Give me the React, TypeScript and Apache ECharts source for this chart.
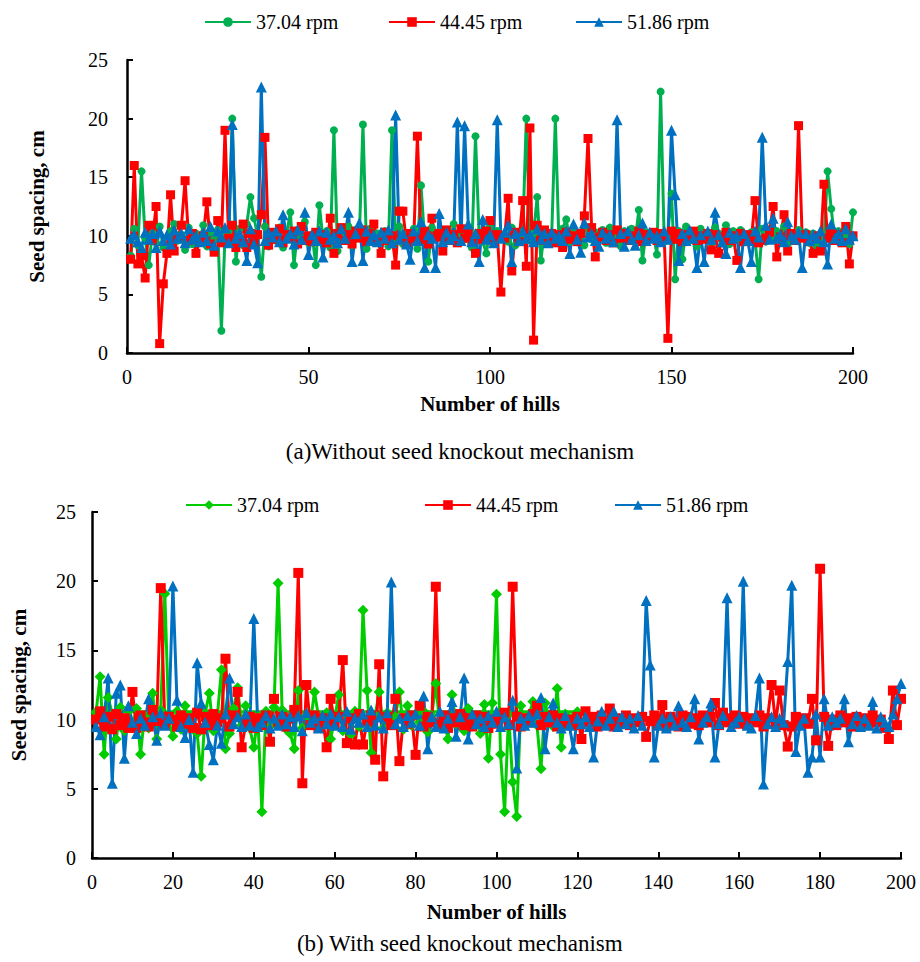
import React, { useEffect, useRef } from 'react';
import * as echarts from 'echarts';

// Hill numbers are 1..N (index + 1)
const seriesNames = ['37.04 rpm', '44.45 rpm', '51.86 rpm'];
const captionA = '(a)Without seed knockout mechanism';
const captionB = '(b) With seed knockout mechanism';
const xTicksTop = { min: 0, max: 200, interval: 50 };
const xTicksBottom = { min: 0, max: 200, interval: 20 };
const yTicks = { min: 0, max: 25, interval: 5 };

// (a) Without seed knockout mechanism
const topGreen = [
  8.3, 10.6, 9.2, 15.5, 9.8, 7.5, 10.2, 9.4, 10.8, 9.0,
  8.5, 10.4, 11.0, 9.6, 10.1, 8.8, 10.7, 9.3, 10.2, 9.5,
  10.9, 9.1, 10.3, 9.7, 10.5, 1.9, 9.9, 10.4, 20.0, 7.8,
  10.6, 9.2, 11.0, 13.3, 11.5, 10.0, 6.5, 10.8, 9.1, 10.3,
  9.6, 10.7, 9.0, 10.2, 12.0, 7.5, 10.5, 9.8, 11.2, 9.4,
  10.1, 7.5, 12.6, 9.7, 10.4, 9.0, 19.0, 8.7, 10.3, 9.6,
  10.8, 9.2, 10.5, 9.9, 19.5, 8.9, 10.6, 9.4, 10.2, 9.7,
  10.4, 9.1, 19.0, 9.5, 10.8, 9.3, 10.1, 9.8, 10.6, 8.9,
  14.3, 9.6, 7.8, 10.7, 9.9, 10.3, 9.2, 10.5, 9.6, 11.0,
  9.4, 10.2, 9.7, 10.6, 9.0, 18.5, 10.1, 9.5, 8.5, 10.8,
  9.3, 10.4, 9.8, 10.1, 9.5, 10.7, 9.2, 10.3, 9.9, 20.0,
  9.6, 10.2, 13.3, 7.9, 10.4, 9.7, 10.1, 20.0, 9.4, 10.6,
  11.4, 9.5, 10.3, 9.8, 10.0, 9.2, 10.6, 9.7, 10.3, 9.9,
  10.5, 9.4, 10.7, 9.6, 10.2, 9.1, 10.4, 9.8, 10.6, 9.5,
  12.2, 7.9, 10.3, 9.7, 10.1, 8.4, 22.3, 9.5, 10.2, 13.6,
  6.3, 10.4, 8.0, 10.8, 9.6, 10.3, 9.1, 10.6, 9.8, 10.1,
  9.4, 10.7, 10.2, 9.5, 10.9, 9.3, 10.4, 9.7, 10.5, 10.1,
  9.6, 10.3, 9.8, 6.3, 10.6, 9.5, 10.2, 9.9, 10.4, 9.7,
  10.8, 9.3, 10.1, 9.6, 10.5, 9.8, 10.3, 9.4, 10.2, 9.1,
  10.0, 9.6, 15.5, 12.3, 9.7, 10.4, 9.5, 10.1, 9.3, 12.0,
];
const topRed = [
  8.0, 16.0, 7.6, 8.3, 6.4, 10.9, 9.6, 12.5, 0.8, 5.9,
  8.5, 13.5, 8.7, 9.8, 10.9, 14.7, 9.6, 10.2, 8.5, 9.5,
  10.0, 12.9, 9.3, 8.6, 11.3, 9.4, 19.0, 9.8, 10.9, 9.0,
  9.6, 11.0, 9.0, 10.2, 9.4, 10.1, 11.8, 18.4, 9.2, 10.3,
  9.7, 10.6, 9.4, 10.1, 9.8, 10.4, 9.3, 10.8, 9.6, 10.0,
  9.5, 10.3, 9.7, 10.1, 9.4, 11.5, 8.5, 10.2, 10.7, 9.6,
  10.1, 9.3, 10.4, 9.8, 10.5, 9.5, 10.2, 11.0, 9.7, 8.5,
  10.3, 9.6, 10.0, 7.5, 12.1, 12.1, 9.4, 10.2, 9.8, 18.5,
  9.7, 10.4, 9.3, 11.5, 9.9, 10.2, 8.7, 10.5, 9.6, 10.1,
  9.4, 10.6, 9.8, 10.3, 9.5, 8.5, 10.2, 9.7, 10.4, 11.3,
  9.6, 10.1, 5.2, 9.8, 13.2, 7.0, 10.3, 9.5, 13.0, 7.4,
  19.2, 1.1, 10.9, 9.6, 10.5, 9.8, 10.2, 9.4, 10.1, 9.0,
  10.3, 9.7, 10.0, 9.5, 10.2, 11.7, 18.3, 10.7, 8.2, 9.9,
  10.3, 9.6, 10.1, 9.4, 10.5, 9.8, 10.2, 9.6, 10.0, 9.7,
  10.4, 9.5, 10.1, 9.8, 10.3, 9.6, 10.2, 9.8, 1.25, 10.4,
  9.7, 10.2, 9.5, 10.1, 9.8, 10.4, 9.6, 10.0, 9.7, 10.2,
  8.8, 10.1, 8.5, 9.9, 10.3, 9.6, 10.0, 7.9, 10.2, 9.5,
  10.1, 9.7, 13.0, 9.4, 9.6, 9.8, 10.3, 12.5, 8.2, 9.9,
  11.8, 8.7, 10.2, 9.6, 19.4, 9.8, 10.1, 9.5, 8.5, 10.0,
  8.7, 14.4, 9.8, 10.2, 9.6, 10.1, 9.4, 10.8, 7.6, 10.0,
];
const topBlue = [
  9.8, 10.1, 9.5, 9.0, 10.3, 9.7, 10.2, 9.0, 10.4, 9.6,
  10.1, 9.3, 10.5, 9.8, 10.2, 9.4, 10.6, 9.7, 10.0, 9.5,
  10.3, 9.6, 10.8, 9.2, 10.4, 9.9, 10.7, 9.4, 19.5, 9.8,
  10.2, 9.5, 7.9, 10.6, 9.3, 7.7, 22.7, 9.6, 10.3, 9.9,
  10.4, 9.5, 11.8, 9.8, 10.2, 9.3, 10.5, 9.7, 12.0, 8.4,
  10.1, 9.6, 10.4, 8.2, 10.3, 9.7, 10.0, 9.4, 10.6, 9.8,
  12.0, 7.8, 10.2, 11.1, 7.9, 10.4, 9.6, 10.1, 9.5, 10.3,
  9.8, 10.5, 9.4, 20.3, 9.7, 10.2, 9.3, 8.0, 10.4, 9.6,
  11.2, 7.3, 10.1, 9.8, 7.3, 11.9, 9.5, 10.3, 9.7, 10.0,
  19.7, 9.6, 19.4, 11.0, 9.5, 10.2, 7.8, 11.4, 9.7, 10.1,
  9.4, 19.9, 9.8, 10.3, 10.9, 7.8, 10.2, 9.6, 10.4, 9.8,
  10.1, 9.5, 10.6, 9.7, 10.2, 9.4, 10.3, 9.8, 10.0, 9.6,
  10.4, 8.5, 11.0, 9.7, 8.6, 11.1, 9.9, 10.2, 9.6, 9.1,
  10.3, 9.8, 10.1, 9.5, 19.9, 10.2, 9.1, 10.4, 9.7, 9.2,
  10.1, 11.1, 9.6, 10.3, 9.8, 10.0, 9.5, 10.4, 9.7, 19.0,
  13.5, 7.9, 10.2, 9.6, 10.5, 9.8, 7.3, 10.1, 7.8, 10.4,
  9.7, 12.0, 10.1, 9.5, 8.5, 10.3, 9.8, 10.0, 7.3, 10.2,
  9.6, 7.8, 10.4, 9.9, 18.4, 10.9, 9.7, 11.5, 9.8, 10.1,
  9.5, 11.2, 10.0, 9.7, 10.3, 7.3, 10.2, 9.6, 10.1, 9.8,
  10.4, 9.5, 7.6, 11.0, 9.8, 10.2, 9.6, 10.6, 9.7, 10.0,
];

// (b) With seed knockout mechanism
const bottomGreen = [
  10.5, 13.1, 7.5, 11.6, 10.4, 8.6, 10.9, 9.2, 10.6, 9.5,
  10.8, 7.5, 10.3, 9.4, 11.9, 8.6, 10.7, 19.1, 9.9, 8.8,
  10.6, 9.3, 11.0, 9.7, 10.4, 9.0, 5.9, 10.5, 11.9, 9.2,
  10.3, 13.6, 7.9, 9.0, 10.8, 12.3, 9.6, 11.0, 9.4, 8.0,
  10.2, 3.35, 10.6, 9.5, 10.9, 19.85, 10.7, 9.3, 9.0, 7.9,
  12.1, 9.4, 10.3, 9.8, 12.0, 10.2, 9.6, 10.5, 8.6, 10.1,
  11.8, 9.2, 10.4, 8.9, 10.6, 9.5, 17.9, 12.1, 7.6, 10.3,
  12.0, 9.4, 10.5, 9.8, 10.2, 12.0, 9.3, 11.0, 9.6, 10.4,
  9.8, 10.6, 9.1, 10.3, 12.6, 9.5, 10.1, 8.6, 11.8, 9.7,
  10.4, 9.2, 10.8, 9.6, 10.2, 9.0, 11.1, 7.2, 11.2, 19.05,
  7.5, 3.35, 10.4, 5.5, 3.0, 11.0, 9.8, 10.3, 11.3, 9.6,
  6.45, 11.2, 10.1, 9.5, 12.25, 8.0, 10.4, 9.8, 10.2, 10.57,
];
// the plotted 37.04 rpm line in (b) returns flat to its first hill
const bottomGreenReturn = [1, 10.57];
const bottomRed = [
  10.0, 10.6, 9.5, 10.2, 9.3, 10.4, 9.6, 10.1, 9.4, 12.0,
  9.4, 10.3, 9.8, 9.5, 10.7, 9.9, 19.5, 9.6, 10.2, 10.0,
  9.5, 10.3, 9.7, 10.1, 9.4, 10.5, 9.3, 10.2, 9.6, 10.4,
  9.8, 10.1, 14.4, 9.5, 10.3, 12.0, 8.0, 9.7, 10.2, 9.4,
  10.1, 9.6, 10.3, 8.4, 11.5, 9.8, 10.2, 9.5, 10.1, 10.7,
  20.6, 5.4, 12.5, 9.6, 10.3, 9.4, 10.1, 8.0, 11.5, 9.7,
  10.2, 14.3, 8.3, 10.1, 8.2, 10.4, 8.2, 9.9, 10.3, 7.1,
  14.0, 5.9, 10.2, 9.6, 11.5, 7.0, 10.1, 9.7, 10.3, 7.45,
  11.0, 9.5, 10.2, 9.8, 19.6, 9.6, 10.3, 9.4, 10.1, 9.8,
  10.4, 9.6, 10.1, 9.5, 10.3, 9.8, 10.2, 9.4, 10.0, 9.7,
  10.3, 10.5, 9.6, 19.6, 10.2, 9.5, 10.1, 9.8, 10.4, 11.0,
  9.6, 10.2, 9.8, 10.3, 9.5, 10.1, 9.7, 10.0, 9.6, 10.2,
  8.6, 10.6, 9.8, 10.2, 9.5, 10.3, 9.7, 10.8, 9.5, 10.1,
  9.7, 10.3, 9.6, 10.1, 9.8, 10.2, 8.75, 9.9, 10.3, 9.6,
  11.05, 9.5, 10.2, 9.8, 9.5, 10.3, 10.2, 9.7, 10.1, 9.6,
  10.3, 9.8, 10.2, 11.2, 9.6, 10.5, 9.8, 10.1, 10.3, 9.7,
  10.2, 9.6, 10.1, 9.8, 10.3, 9.5, 10.1, 12.5, 9.7, 12.1,
  9.6, 8.05, 9.5, 10.2, 9.8, 10.1, 9.7, 11.5, 8.5, 20.9,
  10.2, 8.1, 10.0, 9.6, 10.3, 9.8, 10.1, 9.5, 10.2, 9.7,
  10.1, 9.6, 10.3, 9.8, 10.0, 9.4, 8.6, 12.1, 9.6, 11.5,
];
const bottomBlue = [
  9.5, 8.9, 10.2, 13.0, 5.4, 11.9, 12.5, 7.2, 11.0, 9.8,
  9.0, 10.1, 9.6, 11.5, 10.2, 8.5, 10.5, 9.6, 10.1, 19.65,
  11.4, 9.5, 8.7, 10.0, 6.2, 14.1, 11.2, 9.8, 8.2, 7.1,
  9.6, 8.3, 10.4, 13.0, 9.7, 10.2, 9.5, 10.4, 9.6, 17.3,
  9.5, 9.8, 10.3, 9.4, 10.1, 9.6, 10.4, 9.7, 10.2, 9.5,
  10.3, 9.2, 10.5, 9.8, 10.1, 9.4, 10.3, 9.7, 10.4, 9.6,
  10.2, 9.5, 10.6, 9.3, 10.1, 9.8, 10.4, 9.5, 10.7, 9.6,
  10.2, 9.4, 10.5, 19.95, 9.7, 10.1, 9.5, 10.3, 9.8, 10.4,
  9.6, 11.7, 7.9, 10.2, 9.5, 10.6, 9.4, 10.1, 11.3, 8.8,
  10.2, 13.0, 8.6, 10.4, 9.7, 10.1, 9.5, 10.3, 9.8, 10.6,
  9.5, 10.2, 9.7, 11.4, 6.5, 10.1, 9.6, 10.3, 9.8, 10.4,
  11.6, 7.9, 10.2, 11.2, 9.8, 9.4, 10.3, 9.6, 7.9, 10.1,
  9.7, 10.2, 9.5, 7.3, 9.9, 10.6, 9.6, 10.1, 10.6, 9.5,
  10.2, 9.7, 10.1, 9.4, 10.3, 9.6, 18.6, 13.95, 7.3, 9.6,
  10.1, 9.4, 10.2, 9.6, 11.0, 9.8, 9.5, 10.2, 11.5, 8.6,
  9.8, 10.2, 11.2, 7.3, 9.7, 10.3, 18.8, 9.5, 9.8, 10.2,
  20.0, 9.6, 9.4, 10.3, 13.0, 5.35, 9.7, 10.2, 9.5, 10.1,
  9.8, 14.2, 19.7, 7.7, 9.6, 10.1, 6.2, 7.3, 10.4, 7.3,
  11.5, 9.6, 10.2, 9.8, 10.1, 11.5, 8.4, 9.7, 10.3, 9.5,
  10.1, 9.6, 11.3, 9.4, 10.2, 9.8, 9.5, 10.4, 11.5, 12.6,
];

const toXY = (arr: number[]) => arr.map((v, i) => [i + 1, v]);

const FONT = "'Times New Roman', 'Liberation Serif', serif";
const GREEN_A = '#00B050';
const GREEN_B = '#00CC00';
const RED = '#FF0000';
const BLUE = '#0070C0';

const nameB = (n: string) => n + ' (b)';

export default function App() {
  const ref = useRef<HTMLDivElement>(null);
  useEffect(() => {
    if (!ref.current) return;
    const chart = echarts.init(ref.current, null, { renderer: 'svg' });

    const axisCommon = {
      axisLine: { show: true, lineStyle: { color: '#000', width: 2.5 } },
      axisTick: { show: true, inside: true, length: 6, lineStyle: { color: '#000', width: 2 } },
      splitLine: { show: false },
      axisLabel: { color: '#000', fontFamily: FONT, fontSize: 20 },
      nameTextStyle: { color: '#000', fontFamily: FONT, fontSize: 21, fontWeight: 'bold' },
    };

    const mkSeries = (name: string, data: any[], color: string, symbol: string, size: number, xi: number) => ({
      name,
      type: 'line',
      xAxisIndex: xi,
      yAxisIndex: xi,
      data,
      symbol,
      symbolSize: size,
      showSymbol: true,
      lineStyle: { color, width: 3 },
      itemStyle: { color },
      emphasis: { disabled: true },
    });

    const legendBase = {
      orient: 'horizontal',
      itemWidth: 46,
      itemHeight: 12,
      itemGap: 10,
      textStyle: { color: '#000', fontFamily: FONT, fontSize: 20 },
      formatter: (n: string) => n.replace(/ \(b\)$/, ''),
      selectedMode: false,
    };

    chart.setOption({
      animation: false,
      backgroundColor: '#fff',
      textStyle: { fontFamily: FONT },
      legend: [
        { ...legendBase, data: [seriesNames[0]], left: 199, top: 7 },
        { ...legendBase, data: [seriesNames[1]], left: 383, top: 7 },
        { ...legendBase, data: [seriesNames[2]], left: 570, top: 7 },
        { ...legendBase, data: [nameB(seriesNames[0])], left: 180, top: 490 },
        { ...legendBase, data: [nameB(seriesNames[1])], left: 419, top: 490 },
        { ...legendBase, data: [nameB(seriesNames[2])], left: 609, top: 490 },
      ],
      grid: [
        { left: 127, top: 60, width: 726, height: 293, containLabel: false },
        { left: 92, top: 512, width: 809, height: 346, containLabel: false },
      ],
      xAxis: [
        {
          ...axisCommon,
          gridIndex: 0,
          type: 'value',
          ...xTicksTop,
          name: 'Number of hills',
          nameLocation: 'middle',
          nameGap: 40,
          axisLabel: { ...axisCommon.axisLabel, margin: 14 },
        },
        {
          ...axisCommon,
          gridIndex: 1,
          type: 'value',
          ...xTicksBottom,
          name: 'Number of hills',
          nameLocation: 'middle',
          nameGap: 43,
          axisLabel: { ...axisCommon.axisLabel, margin: 14 },
        },
      ],
      yAxis: [
        {
          ...axisCommon,
          gridIndex: 0,
          type: 'value',
          ...yTicks,
          name: 'Seed spacing, cm',
          nameLocation: 'middle',
          nameGap: 80,
          axisLabel: { ...axisCommon.axisLabel, margin: 19 },
        },
        {
          ...axisCommon,
          gridIndex: 1,
          type: 'value',
          ...yTicks,
          name: 'Seed spacing, cm',
          nameLocation: 'middle',
          nameGap: 63,
          axisLabel: { ...axisCommon.axisLabel, margin: 16 },
        },
      ],
      series: [
        mkSeries(seriesNames[0], toXY(topGreen), GREEN_A, 'circle', 8, 0),
        mkSeries(seriesNames[1], toXY(topRed), RED, 'rect', 9, 0),
        mkSeries(seriesNames[2], toXY(topBlue), BLUE, 'triangle', 11, 0),
        mkSeries(nameB(seriesNames[0]), [...toXY(bottomGreen), bottomGreenReturn], GREEN_B, 'diamond', 11, 1),
        mkSeries(nameB(seriesNames[1]), toXY(bottomRed), RED, 'rect', 10, 1),
        mkSeries(nameB(seriesNames[2]), toXY(bottomBlue), BLUE, 'triangle', 11, 1),
      ],
      graphic: [
        {
          type: 'text',
          left: 'center',
          top: 440,
          style: { text: captionA, fontFamily: FONT, fontSize: 23, fill: '#000' },
        },
        {
          type: 'text',
          left: 'center',
          top: 932,
          style: { text: captionB, fontFamily: FONT, fontSize: 23, fill: '#000' },
        },
      ],
    });
    return () => chart.dispose();
  }, []);
  return (
    <div
      ref={ref}
      style={{ position: 'absolute', left: 0, top: 0, width: 920, height: 962, background: '#fff' }}
    />
  );
}
